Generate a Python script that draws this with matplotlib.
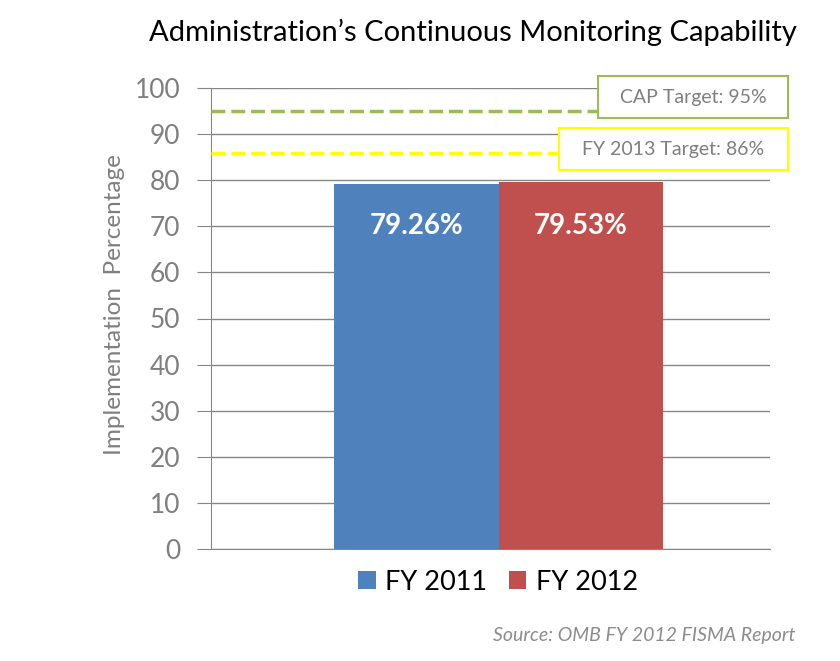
import matplotlib.pyplot as plt
from matplotlib.patches import Rectangle

# data
years = ["FY 2011", "FY 2012"]
values = [79.26, 79.53]
colors = ["#4F81BD", "#C0504D"]
targets = [95, 86]
target_labels = ["CAP Target: 95%", "FY 2013 Target: 86%"]
target_colors = ["#9BBB59", "#FFFF00"]
yticks = list(range(0, 101, 10))

plt.rcParams['font.family'] = ['Lato', 'DejaVu Sans']

fig = plt.figure(figsize=(8.4, 6.61), dpi=100)
W, H = 840, 661
ax = fig.add_axes([211 / W, 1 - 549 / H, 559 / W, (549 - 88) / H])

offsets = [-0.25, 0.25]
for off, v, c, lab in zip(offsets, values, colors, years):
    ax.bar(off, v, width=0.5, color=c, label=lab, zorder=3)
    ax.text(off, 70, f"{v:.2f}%", ha='center', va='center', color='white',
            fontsize=20, fontweight='bold', zorder=4)

x0, x1 = -0.873, 0.824
ax.set_xlim(x0, x1)
ax.set_ylim(0, 100)
ax.set_yticks(yticks)
ax.tick_params(axis='y', length=10, color='#868686', labelsize=19,
               labelcolor='#7f7f7f', pad=12)
ax.tick_params(axis='x', bottom=False, labelbottom=False)
ax.grid(axis='y', color='#868686', linewidth=1, zorder=0)
for s in ['top', 'right']:
    ax.spines[s].set_visible(False)
ax.spines['left'].set_color('#868686')
ax.spines['bottom'].set_color('#868686')

# target lines end at their label boxes
boxes = [(598, 76, 788, 118), (559, 128, 788, 170)]
for t, lab, c, (bx0, by0, bx1, by1) in zip(targets, target_labels, target_colors, boxes):
    xend = x0 + (bx0 - 211) / 559 * (x1 - x0)
    ax.plot([x0, xend], [t, t], color=c, linewidth=2.5,
            linestyle=(0, (4.0, 1.7)), zorder=5, clip_on=False)
    fig.add_artist(Rectangle((bx0 / W, 1 - by1 / H), (bx1 - bx0) / W, (by1 - by0) / H,
                             transform=fig.transFigure, fc='white', ec=c, lw=1.5, zorder=6))
    fig.text((bx0 + bx1) / 2 / W, 1 - (by0 + by1) / 2 / H, lab, ha='center', va='center',
             fontsize=14, color='#7f7f7f', zorder=7)

ax.set_ylabel("Implementation  Percentage", fontsize=17.5, color='#7f7f7f')
ax.yaxis.set_label_coords(-86 / 559, (549 - 305) / (549 - 88))

fig.text(473 / W, 1 - 32 / H, "Administration\u2019s Continuous Monitoring Capability",
         ha='center', va='center', fontsize=21, color='black')

fig.legend(loc='center', bbox_to_anchor=(498 / W, 1 - 582 / H), ncol=2,
           fontsize=19.5, frameon=False, handlelength=0.65, handleheight=0.65,
           handletextpad=0.35, columnspacing=0.8)

fig.text(795 / W, 1 - 635 / H, "Source: OMB FY 2012 FISMA Report", ha='right',
         va='center', fontsize=14, style='italic', color='#8c8c8c')

fig.savefig("out.png", dpi=100)
